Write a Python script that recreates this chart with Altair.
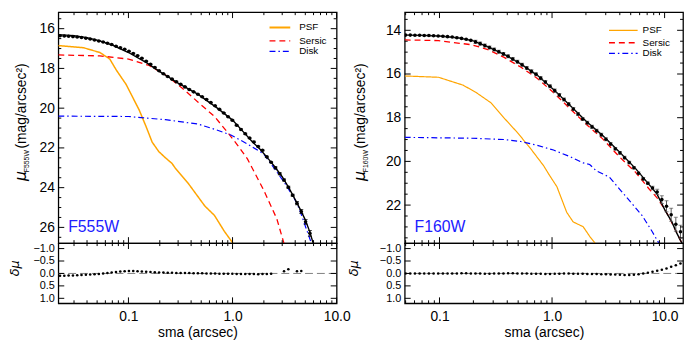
import altair as alt
import pandas as pd

# ---------------- F555W (left panel) ----------------
L_SMA = [0.0220, 0.0242, 0.0266, 0.0293, 0.0322, 0.0354, 0.0390, 0.0429, 0.0472, 0.0519,
         0.0571, 0.0628, 0.0690, 0.0759, 0.0835, 0.0919, 0.1011, 0.1112, 0.1223, 0.1345,
         0.1480, 0.1628, 0.1791, 0.1970, 0.2167, 0.2384, 0.2622, 0.2884, 0.3173, 0.3490,
         0.3839, 0.4223, 0.4645, 0.5110, 0.5621, 0.6183, 0.6801, 0.7481, 0.8229, 0.9052,
         0.9958, 1.0953, 1.2049, 1.3253, 1.4579, 1.6037, 1.7640, 1.9404, 2.1345, 2.3479,
         2.5827, 2.8410, 3.1251, 3.4376, 3.7814, 4.1595, 4.5754, 5.0330, 5.5363]
L_MU = [16.36, 16.37, 16.38, 16.40, 16.42, 16.44, 16.48, 16.52, 16.57, 16.62,
        16.67, 16.73, 16.80, 16.88, 16.96, 17.04, 17.14, 17.25, 17.36, 17.49,
        17.64, 17.79, 17.95, 18.12, 18.27, 18.41, 18.54, 18.67, 18.80, 18.93,
        19.06, 19.18, 19.30, 19.43, 19.56, 19.72, 19.88, 20.06, 20.24, 20.43,
        20.61, 20.86, 21.07, 21.29, 21.50, 21.70, 21.93, 22.12, 22.45, 22.72,
        23.00, 23.30, 23.62, 23.98, 24.38, 24.78, 25.20, 25.72, 26.30]
L_ERR = [0.02] * 40 + [0.03] * 10 + [0.05] * 5 + [0.08, 0.10, 0.12, 0.15]
L_RES_SMA = L_SMA[:50] + [3.1251, 3.4376, 4.1595, 4.5754]
L_RES = [0.09, 0.09, 0.08, 0.08, 0.07, 0.06, 0.05, 0.04, 0.03, 0.02,
         0.00, -0.02, -0.04, -0.06, -0.08, -0.09, -0.10, -0.10, -0.09, -0.08,
         -0.07, -0.06, -0.05, -0.04, -0.04, -0.03, -0.03, -0.02, -0.02, -0.02,
         -0.02, -0.01, -0.01, -0.01, 0.00, 0.00, 0.00, 0.01, 0.01, 0.01,
         0.01, 0.02, 0.02, 0.02, 0.02, 0.02, 0.03, 0.02, 0.02, 0.01,
         -0.09, -0.17, -0.09, -0.10]
L_TOT_SMA = [0.0212, 0.03, 0.04, 0.053, 0.07, 0.1, 0.15, 0.2, 0.3, 0.467, 0.72, 1.0, 1.29,
             1.54, 1.85, 2.25, 2.5, 3.0, 3.5, 4.0, 4.5, 5.0, 5.5, 6.0]
L_TOT_MU = [16.30, 16.35, 16.45, 16.61, 16.83, 17.20, 17.72, 18.16, 18.74, 19.31, 20.01, 20.60,
            21.23, 21.68, 22.08, 22.60, 22.90, 23.45, 24.04, 24.60, 25.12, 25.62, 26.20, 26.85]
L_PSF_SMA = [0.0212, 0.0371, 0.0532, 0.0662, 0.0766, 0.0951, 0.110, 0.127, 0.147, 0.169,
             0.196, 0.227, 0.262, 0.282, 0.376, 0.541, 0.671, 0.835, 1.0, 1.05]
L_PSF_MU = [16.85, 16.96, 17.20, 17.53, 18.09, 18.81, 19.46, 20.10, 20.90, 21.71,
            22.19, 22.50, 22.78, 23.02, 23.79, 24.92, 25.40, 26.20, 26.77, 27.00]
L_SER_SMA = [0.0212, 0.0532, 0.1, 0.158, 0.227, 0.325, 0.467, 0.671, 0.897, 1.12, 1.39,
             1.99, 2.66, 3.07, 3.2]
L_SER_MU = [17.32, 17.37, 17.53, 17.85, 18.33, 18.97, 19.70, 20.42, 21.22, 21.87, 22.55,
            24.12, 25.56, 26.68, 27.00]
L_DSK_SMA = [0.0212, 0.1, 0.227, 0.467, 0.671, 0.963, 1.39, 1.99, 2.49, 3.3, 4.13, 4.44,
             5.0, 5.7, 6.0]
L_DSK_MU = [20.40, 20.42, 20.58, 20.80, 21.06, 21.35, 21.80, 22.30, 22.99, 23.90, 24.76,
            25.16, 25.93, 26.77, 27.10]

# ---------------- F160W (right panel) ----------------
R_SMA = [0.0500, 0.0550, 0.0605, 0.0666, 0.0732, 0.0805, 0.0886, 0.0974, 0.1072, 0.1179,
         0.1297, 0.1427, 0.1569, 0.1726, 0.1899, 0.2089, 0.2297, 0.2527, 0.2780, 0.3058,
         0.3364, 0.3700, 0.4070, 0.4477, 0.4925, 0.5417, 0.5959, 0.6555, 0.7210, 0.7932,
         0.8725, 0.9597, 1.0557, 1.1613, 1.2774, 1.4052, 1.5457, 1.7003, 1.8703, 2.0573,
         2.2631, 2.4894, 2.7383, 3.0122, 3.3134, 3.6447, 4.0092, 4.4101, 4.8511, 5.3362,
         5.8698, 6.4568, 7.1025, 7.8127, 8.5940, 9.4534, 10.399, 11.439, 12.583, 13.841]
R_MU = [14.22, 14.22, 14.23, 14.23, 14.24, 14.24, 14.25, 14.26, 14.27, 14.29,
        14.31, 14.34, 14.37, 14.41, 14.46, 14.53, 14.61, 14.70, 14.79, 14.88,
        14.98, 15.08, 15.19, 15.31, 15.44, 15.58, 15.73, 15.88, 16.01, 16.19,
        16.37, 16.56, 16.76, 16.96, 17.17, 17.38, 17.60, 17.83, 18.06, 18.23,
        18.42, 18.60, 18.78, 18.99, 19.20, 19.42, 19.61, 19.83, 20.05, 20.29,
        20.54, 20.80, 21.00, 21.22, 21.40, 21.75, 22.05, 22.44, 22.88, 23.22]
R_ERR = [0.02] * 15 + [0.07] * 30 + [0.06] * 8 + [0.08, 0.12, 0.18, 0.25, 0.30, 0.32, 0.30]
R_RES = [0.00, 0.00, 0.00, 0.00, 0.00, 0.00, 0.00, 0.00, 0.00, 0.00,
         0.00, 0.00, -0.01, -0.01, 0.00, 0.00, 0.00, 0.01, 0.01, 0.00,
         0.00, 0.00, -0.01, -0.01, 0.00, 0.00, 0.00, 0.01, 0.01, 0.01,
         0.02, 0.02, 0.01, 0.01, 0.00, 0.00, 0.01, 0.01, 0.01, 0.02,
         0.02, 0.02, 0.03, 0.03, 0.04, 0.04, 0.05, 0.06, 0.06, 0.05,
         0.03, 0.00, -0.03, -0.07, -0.11, -0.15, -0.20, -0.27, -0.33, -0.40]
R_TOT_SMA = [0.0491, 0.07, 0.1, 0.15, 0.2, 0.27, 0.376, 0.526, 0.736, 1.03, 1.44, 2.02,
             2.82, 3.95, 5.53, 7.23, 8.57, 10.1, 11.6, 12.8, 14.6]
R_TOT_MU = [14.22, 14.23, 14.26, 14.35, 14.48, 14.76, 15.10, 15.54, 16.05, 16.71, 17.43,
            18.17, 18.82, 19.56, 20.33, 21.04, 21.50, 22.24, 22.77, 23.27, 23.85]
R_PSF_SMA = [0.0491, 0.098, 0.162, 0.212, 0.287, 0.376, 0.492, 0.644, 0.787, 0.842, 0.934,
             1.105, 1.35, 1.54, 1.89, 2.16, 2.39, 2.5]
R_PSF_MU = [16.09, 16.15, 16.51, 16.85, 17.32, 18.02, 18.68, 19.41, 20.00, 20.20, 20.58,
            21.16, 22.33, 22.77, 22.99, 23.43, 23.72, 23.90]
R_SER_SMA = [0.0491, 0.098, 0.192, 0.269, 0.376, 0.526, 0.736, 1.03, 1.44, 2.02, 2.82,
             3.95, 5.53, 7.23, 8.85, 10.8, 13.7, 14.6]
R_SER_MU = [14.44, 14.47, 14.66, 14.88, 15.24, 15.68, 16.19, 16.85, 17.58, 18.31, 18.97,
            19.78, 20.50, 21.24, 21.75, 22.48, 23.57, 23.85]
R_DSK_SMA = [0.0491, 0.192, 0.376, 0.526, 0.736, 1.03, 1.44, 1.89, 2.16, 2.47, 3.23, 4.52,
             6.32, 7.75, 8.85, 9.3]
R_DSK_MU = [18.90, 18.94, 19.00, 19.09, 19.26, 19.48, 19.78, 20.07, 20.14, 20.43, 20.72,
            21.60, 22.48, 23.21, 23.72, 23.95]

# ---------------- axes / ticks ----------------
L_XDOM, R_XDOM = [0.0212, 10.0], [0.0491, 14.58]
L_YDOM, R_YDOM = [26.79, 15.17], [23.74, 13.17]
RES_DOM = [1.2, -1.22]
X_MAJ = [0.1, 1.0, 10.0]
L_X_MIN = [0.03, 0.04, 0.05, 0.06, 0.07, 0.08, 0.09, 0.2, 0.3, 0.4, 0.5, 0.6, 0.7, 0.8, 0.9,
           2, 3, 4, 5, 6, 7, 8, 9]
R_X_MIN = [0.05, 0.06, 0.07, 0.08, 0.09, 0.2, 0.3, 0.4, 0.5, 0.6, 0.7, 0.8, 0.9,
           2, 3, 4, 5, 6, 7, 8, 9]
L_Y_MAJ = [16, 18, 20, 22, 24, 26]
L_Y_MIN = [15.5, 16.5, 17, 17.5, 18.5, 19, 19.5, 20.5, 21, 21.5, 22.5, 23, 23.5, 24.5, 25,
           25.5, 26.5]
R_Y_MAJ = [14, 16, 18, 20, 22]
R_Y_MIN = [13.5, 14.5, 15, 15.5, 16.5, 17, 17.5, 18.5, 19, 19.5, 20.5, 21, 21.5, 22.5, 23,
           23.5]
RES_MAJ = [-1.0, -0.5, 0.0, 0.5, 1.0]
LEGEND = ["PSF", "Sersic", "Disk"]

W, HM, HR = 282, 234, 61
MAJ, MIN = 6, 3
FONT = "Liberation Sans"
ORANGE, RED, BLUE = "#ffa500", "#ff0000", "#0000ff"


def frame(**k):
    return pd.DataFrame(k)


def tick_layers(xs, ys, xaxis, yaxis, xmin, ymaj, ymin, H, yfield):
    layers = []
    for vals, ln in ((X_MAJ, MAJ), (xmin, MIN)):
        d = frame(sma=vals)
        x = alt.X("sma:Q", scale=xs, axis=xaxis)
        layers.append(alt.Chart(d).mark_rule(color="black", strokeWidth=1)
                      .encode(x=x, y=alt.value(0), y2=alt.value(ln)))
        layers.append(alt.Chart(d).mark_rule(color="black", strokeWidth=1)
                      .encode(x=x, y=alt.value(H - ln), y2=alt.value(H)))
    for vals, ln in ((ymaj, MAJ), (ymin, MIN)):
        if not vals:
            continue
        d = pd.DataFrame({yfield: vals})
        y = alt.Y(f"{yfield}:Q", scale=ys, axis=yaxis)
        layers.append(alt.Chart(d).mark_rule(color="black", strokeWidth=1)
                      .encode(y=y, x=alt.value(0), x2=alt.value(ln)))
        layers.append(alt.Chart(d).mark_rule(color="black", strokeWidth=1)
                      .encode(y=y, x=alt.value(W - ln), x2=alt.value(W)))
    return layers


def text(t, x, y, size, color="black", angle=0, align="left", style="normal",
         baseline="alphabetic", font=FONT, opacity=1):
    return alt.Chart(frame(t=[t])).mark_text(
        angle=angle, fontSize=size, color=color, align=align, baseline=baseline,
        font=font, fontStyle=style, opacity=opacity).encode(
        text="t:N", x=alt.value(x), y=alt.value(y))


def panel(cfg):
    xs = alt.Scale(type="log", domain=cfg["xdom"], nice=False)
    ys = alt.Scale(domain=cfg["ydom"], nice=False, zero=False)
    rs = alt.Scale(domain=RES_DOM, nice=False, zero=False)
    ax_y = alt.Axis(values=cfg["ymaj"], format="d", title=None, ticks=False, tickSize=0,
                    domain=False, grid=False, labelPadding=4)
    ax_rx = alt.Axis(values=X_MAJ, format=".1f", title="sma (arcsec)", ticks=False,
                     tickSize=0, domain=False, grid=False, labelPadding=6, titlePadding=3,
                     labelFlush=False, labelOverlap=False)
    ax_ry = alt.Axis(values=RES_MAJ, format=".1f", title=None, ticks=False, tickSize=0,
                     domain=False, grid=False, labelPadding=4, labelOverlap=False,
                     labelFontSize=11)

    def X():
        return alt.X("sma:Q", scale=xs, axis=None)

    def Y(f="mu"):
        return alt.Y(f"{f}:Q", scale=ys, axis=ax_y)

    layers = []
    for (sx, sy, col, dash, sw) in cfg["models"]:
        m = alt.Chart(frame(sma=sx, mu=sy)).mark_line(
            color=col, strokeWidth=sw, clip=True, strokeDash=dash)
        layers.append(m.encode(x=X(), y=Y(), order="sma:Q"))
    tot = frame(sma=cfg["tsma"], mu=cfg["tmu"])
    layers.append(alt.Chart(tot).mark_line(color="black", strokeWidth=1.4, clip=True)
                  .encode(x=X(), y=Y(), order="sma:Q"))
    pts = frame(sma=cfg["sma"], mu=cfg["mu"],
                lo=[m - e for m, e in zip(cfg["mu"], cfg["err"])],
                hi=[m + e for m, e in zip(cfg["mu"], cfg["err"])])
    layers.append(alt.Chart(pts).mark_errorbar(
        ticks={"size": 4, "color": cfg["ecol"]}, rule={"color": cfg["ecol"], "strokeWidth": 1},
        clip=True).encode(x=X(), y=Y("lo"), y2="hi:Q"))
    layers.append(alt.Chart(pts).mark_circle(size=13, color="black", opacity=1, clip=True)
                  .encode(x=X(), y=Y()))
    layers += tick_layers(xs, ys, None, ax_y, cfg["xmin"], cfg["ymaj"], cfg["ymin"], HM, "mu")
    # legend
    lx0, lx1, ltx = cfg["leg_x"]
    for name, yy, col, dash, sw in zip(LEGEND, cfg["leg_y"], [ORANGE, RED, BLUE],
                                       [[1, 0], [6, 4], [6, 3, 1.5, 3]], cfg["leg_w"]):
        layers.append(alt.Chart(frame(t=[name])).mark_rule(color=col, strokeWidth=sw,
                                                           strokeDash=dash)
                      .encode(x=alt.value(lx0), x2=alt.value(lx1), y=alt.value(yy)))
        layers.append(text(name, ltx, yy, 10, baseline="middle"))
    # filter label and y title
    layers.append(text(cfg["band"], 10, HM - 11, 16, color="#2020ff"))
    tb = cfg["tb"]
    layers.append(text("μ", tb, 166, 16, angle=270, align="center", style="italic",
                       font="DejaVu Sans"))
    layers.append(text(cfg["band"], tb + 3, 151, 7, angle=270, align="center"))
    layers.append(text("(mag/arcsec²)", tb, 95, 14, angle=270, align="center"))
    main = alt.layer(*layers).properties(width=W, height=HM)

    # residual panel
    rl = []
    rl.append(alt.Chart(frame(d=[0.0])).mark_rule(color="#808080", strokeDash=[8, 4],
                                                  strokeWidth=1)
              .encode(y=alt.Y("d:Q", scale=rs, axis=ax_ry)))
    res = frame(sma=cfg["rsma"], d=cfg["res"])
    rl.append(alt.Chart(res).mark_circle(size=7, color="black", opacity=1, clip=True)
              .encode(x=alt.X("sma:Q", scale=xs, axis=ax_rx),
                      y=alt.Y("d:Q", scale=rs, axis=ax_ry)))
    rl += tick_layers(xs, rs, ax_rx, ax_ry, cfg["xmin"], RES_MAJ, [], HR, "d")
    rl.append(text("δμ", cfg["rb"], 25.5, 13, angle=270, align="center", style="italic",
                   font="DejaVu Sans"))
    resid = alt.layer(*rl).properties(width=W, height=HR)
    return main, resid


left_main, left_res = panel(dict(
    xdom=L_XDOM, ydom=L_YDOM, ymaj=L_Y_MAJ, ymin=L_Y_MIN, xmin=L_X_MIN,
    sma=L_SMA, mu=L_MU, err=L_ERR, rsma=L_RES_SMA, res=L_RES, ecol="black",
    tsma=L_TOT_SMA, tmu=L_TOT_MU,
    models=[(L_PSF_SMA, L_PSF_MU, ORANGE, [1, 0], 1.5),
            (L_SER_SMA, L_SER_MU, RED, [6, 4], 1.3),
            (L_DSK_SMA, L_DSK_MU, BLUE, [6, 3, 1.5, 3], 1.2)],
    leg_x=(214, 235, 244), leg_y=[15.5, 29.1, 39.8], leg_w=[2, 1.3, 1.2],
    band="F555W", tb=-33, rb=-40))
right_main, right_res = panel(dict(
    xdom=R_XDOM, ydom=R_YDOM, ymaj=R_Y_MAJ, ymin=R_Y_MIN, xmin=R_X_MIN,
    sma=R_SMA, mu=R_MU, err=R_ERR, rsma=R_SMA, res=R_RES, ecol="#555555",
    tsma=R_TOT_SMA, tmu=R_TOT_MU,
    models=[(R_PSF_SMA, R_PSF_MU, ORANGE, [1, 0], 1.2),
            (R_SER_SMA, R_SER_MU, RED, [6, 4], 1.3),
            (R_DSK_SMA, R_DSK_MU, BLUE, [6, 3, 1.5, 3], 1.2)],
    leg_x=(207, 236, 241), leg_y=[18.4, 31.0, 41.8], leg_w=[1.2, 1.3, 1.2],
    band="F160W", tb=-40, rb=-47))

chart = alt.concat(left_main, right_main, left_res, right_res, columns=2,
                   spacing={"row": 0, "column": 69}, bounds="flush").properties(
    padding=0
).configure(padding=0).configure_view(stroke="black", strokeWidth=1.3).configure_axis(
    labelFont=FONT, labelFontSize=14, labelColor="black",
    titleFont=FONT, titleFontSize=14, titleFontWeight="normal", titleColor="black")

chart.save("out.html", embed_options={"renderer": "svg", "actions": False})
